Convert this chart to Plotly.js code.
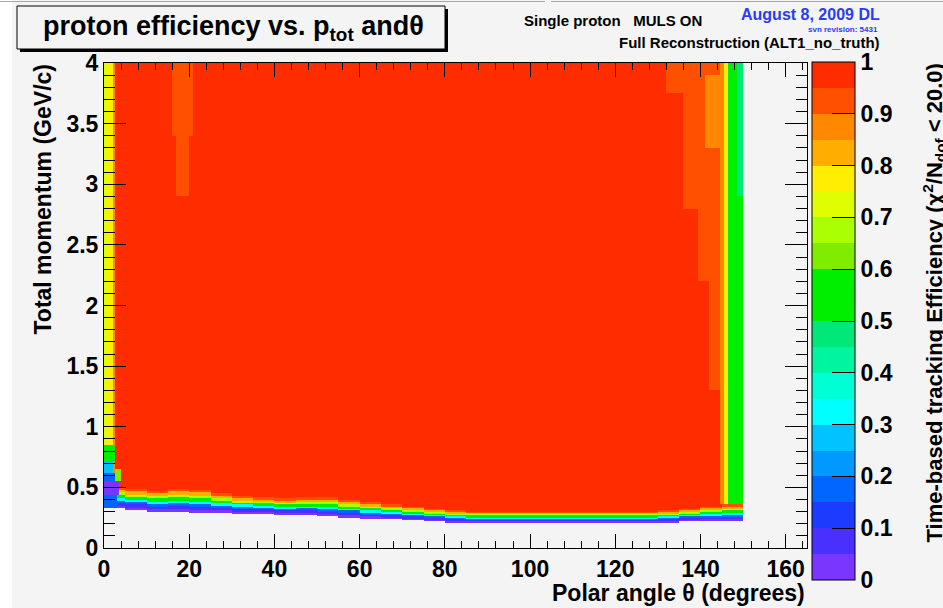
<!DOCTYPE html>
<html>
<head>
<meta charset="utf-8">
<script src="https://cdn.plot.ly/plotly-3.0.1.min.js"></script>
<style>
  html, body { margin: 0; padding: 0; background: #f4f4f4; }
  #plot { width: 943px; height: 608px; }
</style>
</head>
<body>
<div id="plot"></div>
<script>
// ---- Data ----
// theta groups (degrees), 5-degree wide
const thetaGroupEdges = [0,5,10,15,20,25,30,35,40,45,50,55,60,65,70,75,80,85,90,95,100,105,110,115,120,125,130,135,140,145,150];
// lowest momentum with entries in each theta group (GeV/c)
const pLow = [0.33,0.31,0.30,0.30,0.29,0.29,0.28,0.28,0.27,0.27,0.26,0.25,0.24,0.24,0.23,0.22,0.21,0.21,0.21,0.21,0.21,0.21,0.21,0.21,0.21,0.21,0.21,0.22,0.22,0.22];
// momentum where the efficiency reaches the plateau in each theta group (GeV/c)
const pRed = [0.50,0.49,0.47,0.49,0.48,0.45,0.43,0.42,0.41,0.42,0.42,0.40,0.38,0.36,0.34,0.32,0.31,0.30,0.30,0.30,0.30,0.30,0.30,0.30,0.30,0.30,0.31,0.32,0.34,0.36];
// efficiency steps across the low-momentum turn-on (bottom to top)
const rampEff = [0.03,0.08,0.15,0.30,0.50,0.68,0.80,0.90];
// plateau efficiency
const plateauEff = 0.97;
// regions with other efficiency: [theta0, theta1, p0, p1, efficiency]
const regionTheta0 = [0,   1,   2,   144.5, 145.5, 146.5, 148.5, 16,   17,   132,  136,  139.5, 142,  141,  0,    0,    0,    0,    0,    2.5];
const regionTheta1 = [1,   2,   2.5, 145.5, 146.5, 150,   150,   21,   20,   144.5,144.5,144.5, 144.5,144.5,2.5,  2,    3,    3.5,  3,    4];
const regionP0     = [0.85,0.85,0.6, 0.36,  0.36,  0.36,  2.9,   3.4,  2.9,  3.75, 2.8,  2.2,   1.3,  3.3,  0.72, 0.62, 0.55, 0.44, 0.33, 0.55];
const regionP1     = [4,   4,   4,   4,     4,     4,     4,     4,    3.4,  4,    3.75, 2.8,   2.2,  3.9,  0.85, 0.72, 0.62, 0.55, 0.44, 0.65];
const regionEff    = [0.73,0.79,0.87,0.87,  0.78,  0.55,  0.47,  0.93, 0.93, 0.93, 0.93, 0.93,  0.93, 0.88, 0.55, 0.28, 0.15, 0.04, 0.15, 0.60];

// ROOT palette, 20 contour levels (0 -> 1)
const paletteColors = ['#7a36ff','#4a30ff','#1b3cff','#0066ff','#0099ff','#00c3ff','#00ffff','#00ffd5','#00f5a0','#00e878','#00ee00','#00ee00','#80ec00','#aaff00','#ddff00','#ffee00','#ffae00','#ff8800','#ff5000','#ff2c00'];
const cbTickVals = [0,0.1,0.2,0.3,0.4,0.5,0.6,0.7,0.8,0.9,1];
const cbTickText = ['0','0.1','0.2','0.3','0.4','0.5','0.6','0.7','0.8','0.9','1'];

// ---- Histogram binning ----
const nX = 300, nY = 400;            // 0.5 deg x 0.01 GeV/c bins
const xEdges = [], yEdges = [];
for (let i = 0; i <= nX; i++) xEdges.push(i * 0.5);
for (let j = 0; j <= nY; j++) yEdges.push(j * 0.01);

const z = [];
for (let j = 0; j < nY; j++) {
  const p = (yEdges[j] + yEdges[j + 1]) / 2;
  const row = [];
  for (let i = 0; i < nX; i++) {
    const th = (xEdges[i] + xEdges[i + 1]) / 2;
    let g = 0;
    while (g < thetaGroupEdges.length - 2 && th >= thetaGroupEdges[g + 1]) g++;
    let v = null;
    if (p >= pLow[g]) {
      if (p < pRed[g]) {
        const k = Math.floor((p - pLow[g]) / (pRed[g] - pLow[g]) * rampEff.length);
        v = rampEff[Math.min(k, rampEff.length - 1)];
      } else {
        v = plateauEff;
      }
      for (let r = 0; r < regionEff.length; r++) {
        if (th >= regionTheta0[r] && th < regionTheta1[r] && p >= regionP0[r] && p < regionP1[r]) v = regionEff[r];
      }
    }
    row.push(v);
  }
  z.push(row);
}

const colorscale = [];
paletteColors.forEach((c, i) => {
  colorscale.push([i / paletteColors.length, c]);
  colorscale.push([(i + 1) / paletteColors.length, c]);
});

// ---- Layout geometry helpers (plot area 104..807 x 63..548 px) ----
const L = 104, R = 807, T = 63, B = 548;
const px = v => (v - L) / (R - L);
const py = v => (B - v) / (B - T);

const FONT = 'Liberation Sans, Arial, Helvetica, sans-serif';
const trace = {
  type: 'heatmap',
  x: xEdges, y: yEdges, z: z,
  zmin: 0, zmax: 1,
  colorscale: colorscale,
  hoverinfo: 'skip',
  colorbar: {
    x: px(812), xanchor: 'left', xpad: 0,
    y: py(62), yanchor: 'top', ypad: 0,
    len: 518, lenmode: 'pixels',
    thickness: 43, thicknessmode: 'pixels',
    outlinewidth: 1, outlinecolor: '#000',
    ticks: 'inside', ticklen: 23, tickcolor: '#000', tickwidth: 1,
    tickvals: cbTickVals, ticktext: cbTickText,
    tickfont: {family: FONT, size: 23, color: '#000', weight: 'bold'}
  }
};

const axisCommon = {
  showgrid: false, zeroline: false,
  showline: true, linecolor: '#000', linewidth: 1, mirror: 'ticks',
  ticks: 'inside', tickcolor: '#000', tickwidth: 1,
  tickfont: {family: FONT, size: 23, color: '#000', weight: 'bold'}
};

const layout = {
  width: 943, height: 608,
  margin: {l: L, r: 943 - R, t: T, b: 608 - B, pad: 0},
  paper_bgcolor: '#f4f4f4', plot_bgcolor: '#f4f4f4',
  showlegend: false,
  xaxis: Object.assign({}, axisCommon, {
    range: [0, 165], tick0: 0, dtick: 20, ticklen: 14,
    minor: {dtick: 4, ticks: 'inside', ticklen: 7, tickcolor: '#000'}
  }),
  yaxis: Object.assign({}, axisCommon, {
    range: [0, 4], tick0: 0, dtick: 0.5, ticklen: 22,
    minor: {dtick: 0.1, ticks: 'inside', ticklen: 11, tickcolor: '#000'}
  }),
  shapes: [
    {type: 'rect', xref: 'paper', yref: 'paper', x0: px(0), x1: px(12), y0: py(608), y1: py(0), fillcolor: '#ffffff', line: {width: 0}},
    {type: 'line', xref: 'paper', yref: 'paper', x0: px(0), x1: px(545), y0: py(1.5), y1: py(1.5), line: {color: '#a8a8a8', width: 1}},
    {type: 'line', xref: 'paper', yref: 'paper', x0: px(551), x1: px(943), y0: py(1.5), y1: py(1.5), line: {color: '#a8a8a8', width: 1}},
    {type: 'rect', xref: 'paper', yref: 'paper', x0: px(20), x1: px(448), y0: py(52), y1: py(9), fillcolor: '#000', line: {width: 0}},
    {type: 'rect', xref: 'paper', yref: 'paper', x0: px(17), x1: px(445), y0: py(49), y1: py(6), fillcolor: '#f4f4f4', line: {color: '#000', width: 1}}
  ],
  annotations: [
    {text: 'proton efficiency vs. p<sub>tot</sub> and\u03b8', xref: 'paper', yref: 'paper', x: px(233), y: py(28), xanchor: 'center', yanchor: 'middle', showarrow: false,
     font: {family: FONT, size: 27, color: '#000', weight: 'bold'}},
    {text: 'Single proton\u00a0\u00a0\u00a0MULS ON', xref: 'paper', yref: 'paper', x: px(522), y: py(20), xanchor: 'left', yanchor: 'middle', showarrow: false,
     font: {family: FONT, size: 15, color: '#000', weight: 'bold'}},
    {text: 'August 8, 2009 DL', xref: 'paper', yref: 'paper', x: px(882), y: py(15), xanchor: 'right', yanchor: 'middle', showarrow: false,
     font: {family: FONT, size: 16, color: '#2a3cf0', weight: 'bold'}},
    {text: 'svn revision: 5431', xref: 'paper', yref: 'paper', x: px(880), y: py(29), xanchor: 'right', yanchor: 'middle', showarrow: false,
     font: {family: FONT, size: 8, color: '#2a3cf0', weight: 'bold'}},
    {text: 'Full Reconstruction (ALT1_no_truth)', xref: 'paper', yref: 'paper', x: px(882), y: py(43), xanchor: 'right', yanchor: 'middle', showarrow: false,
     font: {family: FONT, size: 15, color: '#000', weight: 'bold'}},
    {text: 'Total momentum (GeV/c)', xref: 'paper', yref: 'paper', x: px(42), y: py(62), xanchor: 'center', yanchor: 'top', textangle: -90, showarrow: false,
     font: {family: FONT, size: 23, color: '#000', weight: 'bold'}},
    {text: 'Polar angle \u03b8 (degrees)', xref: 'paper', yref: 'paper', x: px(807), y: py(593), xanchor: 'right', yanchor: 'middle', showarrow: false,
     font: {family: FONT, size: 23, color: '#000', weight: 'bold'}},
    {text: 'Time-based tracking Efficiency (\u03c7<sup>2</sup>/N<sub>dof</sub> < 20.0)', xref: 'paper', yref: 'paper', x: px(934), y: py(62), xanchor: 'center', yanchor: 'top', textangle: -90, showarrow: false,
     font: {family: FONT, size: 22, color: '#000', weight: 'bold'}}
  ]
};

Plotly.newPlot('plot', [trace], layout, {staticPlot: true, displayModeBar: false});
</script>
</body>
</html>
